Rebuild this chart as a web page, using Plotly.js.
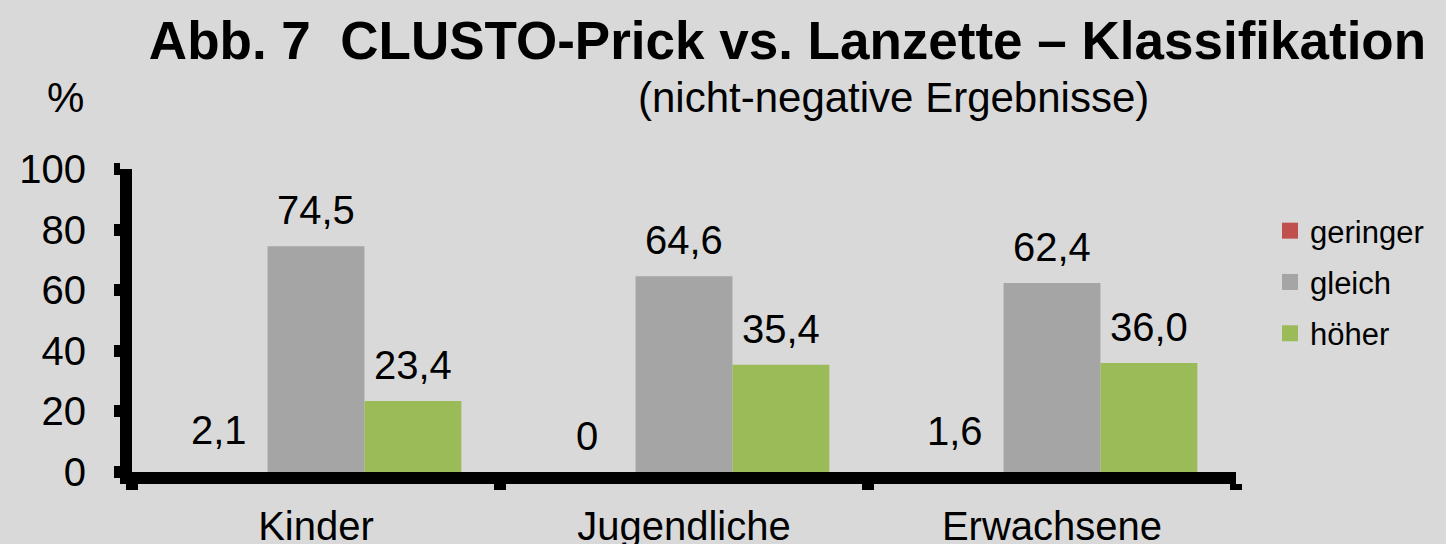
<!DOCTYPE html>
<html>
<head>
<meta charset="utf-8">
<script src="https://cdn.plot.ly/plotly-3.0.1.min.js"></script>
<style>
  html, body { margin: 0; padding: 0; background: #D9D9D9; }
  #chart { width: 1446px; height: 544px; }
</style>
</head>
<body>
<div id="chart"></div>
<script>
// ---- data ----
const categories = ['Kinder', 'Jugendliche', 'Erwachsene'];
const seriesNames = ['geringer', 'gleich', 'höher'];
const geringer = [2.1, 0, 1.6];
const gleich = [74.5, 64.6, 62.4];
const hoeher = [23.4, 35.4, 36.0];
const yTicks = [0, 20, 40, 60, 80, 100];

const titleText = '<b>Abb. 7\u00a0\u00a0CLUSTO-Prick vs. Lanzette \u2013 Klassifikation</b>';
const subtitleText = '(nicht-negative Ergebnisse)';
const unitText = '%';

// ---- style ----
const colors = ['#C0504D', '#A5A5A5', '#9BBB59'];
const FONT = '"Liberation Sans", Arial, Helvetica, sans-serif';
const W = 1446, H = 544;
const M = { l: 132, r: 210, t: 169, b: 72 };
const plotW = W - M.l - M.r, plotH = H - M.t - M.b;
const pxX = px => (px - M.l) / plotW;
const pxY = py => (H - M.b - py) / plotH;
const bargap = 0.21;

const seriesValues = [geringer, gleich, hoeher];
const fmt = v => (v === 0 ? '0' : v.toFixed(1).replace('.', ','));

// bars (the "geringer" bars are not visible in the reference)
const barTraces = seriesValues.map((vals, i) => ({
  type: 'bar',
  name: seriesNames[i],
  x: categories,
  y: vals,
  marker: { color: i === 0 ? 'rgba(0,0,0,0)' : colors[i], line: { width: 0 } },
  showlegend: false,
  hoverinfo: 'x+y+name'
}));

// legend entries with larger square swatches
const legendTraces = seriesNames.map((n, i) => ({
  type: 'scatter',
  mode: 'markers',
  name: n,
  x: [null],
  y: [null],
  legendgroup: 'g' + i,
  marker: { symbol: 'square', size: 16, color: colors[i] },
  showlegend: true,
  hoverinfo: 'skip'
}));

// value labels above bars
const barW = (1 - bargap) / seriesNames.length;
const labelAnnotations = [];
seriesValues.forEach((vals, s) => {
  vals.forEach((v, c) => {
    labelAnnotations.push({
      x: c + (s - 1) * barW,
      y: v,
      xref: 'x',
      yref: 'y',
      text: fmt(v),
      showarrow: false,
      yanchor: 'bottom',
      xanchor: 'center',
      yshift: 12,
      font: { family: FONT, size: 40, color: '#000' }
    });
  });
});

const layout = {
  width: W,
  height: H,
  margin: M,
  paper_bgcolor: '#D9D9D9',
  plot_bgcolor: '#D9D9D9',
  barmode: 'group',
  bargap: bargap,
  bargroupgap: 0,
  showlegend: true,
  font: { family: FONT, color: '#000' },
  title: {
    text: titleText,
    font: { family: FONT, size: 53, color: '#000' },
    xref: 'container',
    yref: 'container',
    x: 787.5 / W,
    xanchor: 'center',
    y: 1 - 40.8 / H,
    yanchor: 'middle'
  },
  xaxis: {
    type: 'category',
    range: [-0.5, categories.length - 0.5],
    showline: true,
    linecolor: '#000',
    linewidth: 12,
    ticks: 'outside',
    tickson: 'boundaries',
    ticklen: 6,
    tickwidth: 12,
    tickcolor: '#000',
    showgrid: false,
    zeroline: false,
    tickfont: { family: FONT, size: 40, color: '#000' },
    ticklabelstandoff: 8,
    fixedrange: true
  },
  yaxis: {
    range: [0, 100],
    tickvals: yTicks,
    ticktext: yTicks.map(String),
    showline: true,
    linecolor: '#000',
    linewidth: 12,
    ticks: 'outside',
    ticklen: 6,
    tickwidth: 12,
    tickcolor: '#000',
    showgrid: false,
    zeroline: false,
    tickfont: { family: FONT, size: 40, color: '#000' },
    ticklabelstandoff: 20,
    fixedrange: true
  },
  legend: {
    x: pxX(1270),
    y: pxY(204),
    xanchor: 'left',
    yanchor: 'top',
    bgcolor: 'rgba(0,0,0,0)',
    font: { family: FONT, size: 31, color: '#000' },
    traceorder: 'grouped',
    tracegroupgap: 8,
    itemclick: false,
    itemdoubleclick: false
  },
  annotations: labelAnnotations.concat([
    {
      xref: 'paper', yref: 'paper',
      x: pxX(893), y: pxY(97),
      xanchor: 'center', yanchor: 'middle',
      text: subtitleText, showarrow: false,
      font: { family: FONT, size: 42, color: '#000' }
    },
    {
      xref: 'paper', yref: 'paper',
      x: pxX(65), y: pxY(98),
      xanchor: 'center', yanchor: 'middle',
      text: unitText, showarrow: false,
      font: { family: FONT, size: 42, color: '#000' }
    }
  ])
};

Plotly.newPlot('chart', barTraces.concat(legendTraces), layout, { displayModeBar: false, staticPlot: true });
</script>
</body>
</html>
